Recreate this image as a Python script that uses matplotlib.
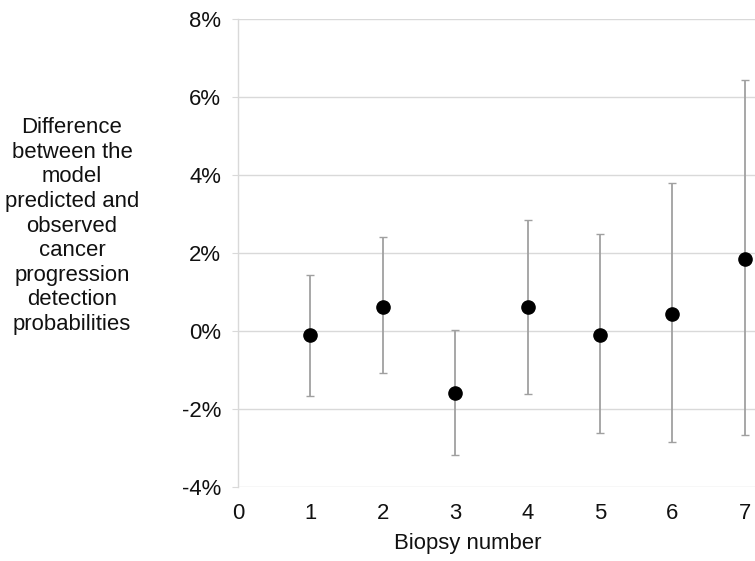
import matplotlib
matplotlib.use('Agg')
import matplotlib.pyplot as plt
from matplotlib.ticker import FuncFormatter

# ── Data (in %) ───────────────────────────────────────────────────────────────
biopsy = [1, 2, 3, 4, 5, 6, 7]
diff = [-0.10, 0.63, -1.59, 0.61, -0.09, 0.44, 1.86]
upper = [1.44, 2.41, 0.04, 2.86, 2.49, 3.80, 6.43]
lower = [-1.65, -1.06, -3.16, -1.61, -2.60, -2.85, -2.67]

yticks = [-4, -2, 0, 2, 4, 6, 8]
xticks = [0, 1, 2, 3, 4, 5, 6, 7]

plt.rcParams['font.family'] = ['Liberation Sans', 'DejaVu Sans']
FS = 15.9
GRID = '#d9d9d9'
BAR = '#a0a0a0'
TXT = '#111111'

fig = plt.figure(figsize=(7.55, 5.61), dpi=100)
ax = fig.add_axes([0.3152, 0.1314, 0.6848, 0.8347])

err = [[d - lo for d, lo in zip(diff, lower)],
       [up - d for d, up in zip(diff, upper)]]
ax.errorbar(biopsy, diff, yerr=err, fmt='o', color='black', markersize=9.5,
            ecolor=BAR, elinewidth=1.3, capsize=3, capthick=1.0, zorder=3,
            clip_on=False)

ax.set_xlim(0, 7.14)
ax.set_ylim(-4, 8)
ax.set_yticks(yticks)
ax.set_xticks(xticks)
ax.yaxis.set_major_formatter(FuncFormatter(lambda v, p: f'{v:.0f}%'))
ax.grid(axis='y', color=GRID, linewidth=1.0, zorder=0)
ax.set_axisbelow(True)

for s in ['top', 'right', 'bottom']:
    ax.spines[s].set_visible(False)
ax.spines['left'].set_color(GRID)
ax.spines['left'].set_linewidth(1.0)

ax.tick_params(axis='y', length=4.3, color=GRID, pad=8, labelsize=FS,
               labelcolor=TXT)
ax.tick_params(axis='x', length=0, pad=11, labelsize=FS, labelcolor=TXT)

fig.text(468 / 755, 1 - 543 / 561, 'Biopsy number', ha='center', va='center',
         fontsize=FS, color=TXT)
fig.text(72 / 755, 1 - 226 / 561,
         'Difference\nbetween the\nmodel\npredicted and\nobserved\ncancer\n'
         'progression\ndetection\nprobabilities',
         ha='center', va='center', multialignment='center', fontsize=FS,
         linespacing=1.22, color=TXT)

fig.savefig('out.png', dpi=100)
